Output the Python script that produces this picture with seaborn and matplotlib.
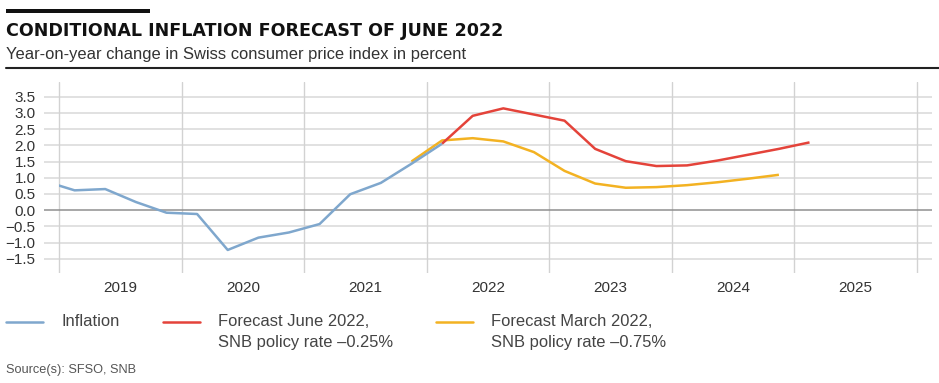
import numpy as np
import pandas as pd
import matplotlib
matplotlib.use("Agg")
import matplotlib.pyplot as plt
import seaborn as sns
from matplotlib.patches import Rectangle
from matplotlib.lines import Line2D
from matplotlib.ticker import FixedLocator, FuncFormatter

# ---------------- data ----------------
inflation_quarters = ["2018Q4", "2019Q1", "2019Q2", "2019Q3", "2019Q4",
                      "2020Q1", "2020Q2", "2020Q3", "2020Q4",
                      "2021Q1", "2021Q2", "2021Q3", "2021Q4", "2022Q1"]
inflation_values = [0.9, 0.61, 0.65, 0.25, -0.08,
                    -0.12, -1.23, -0.85, -0.69,
                    -0.43, 0.49, 0.84, 1.43, 2.05]

june_quarters = ["2022Q1", "2022Q2", "2022Q3", "2022Q4",
                 "2023Q1", "2023Q2", "2023Q3", "2023Q4",
                 "2024Q1", "2024Q2", "2024Q3", "2024Q4", "2025Q1"]
june_values = [2.05, 2.91, 3.14, 2.95,
               2.76, 1.89, 1.51, 1.36,
               1.38, 1.53, 1.71, 1.89, 2.09]

march_quarters = ["2021Q4", "2022Q1", "2022Q2", "2022Q3", "2022Q4",
                  "2023Q1", "2023Q2", "2023Q3", "2023Q4",
                  "2024Q1", "2024Q2", "2024Q3", "2024Q4"]
march_values = [1.5, 2.15, 2.22, 2.12, 1.79,
                1.21, 0.82, 0.69, 0.71,
                0.77, 0.86, 0.97, 1.09]

year_labels = ["2019", "2020", "2021", "2022", "2023", "2024", "2025"]
y_ticks = [-1.5, -1.0, -0.5, 0.0, 0.5, 1.0, 1.5, 2.0, 2.5, 3.0, 3.5]

series_names = ["Inflation", "Forecast June 2022,\nSNB policy rate \u20130.25%",
                "Forecast March 2022,\nSNB policy rate \u20130.75%"]
colors = ["#7fa7cd", "#e4433a", "#f3b222"]


def q_to_x(q):
    year, qq = q.split("Q")
    return int(year) + (int(qq) - 0.5) / 4.0


frames = []
for name, qs, vals in [(series_names[0], inflation_quarters, inflation_values),
                       (series_names[1], june_quarters, june_values),
                       (series_names[2], march_quarters, march_values)]:
    frames.append(pd.DataFrame({"x": [q_to_x(q) for q in qs], "value": vals, "series": name}))
df = pd.concat(frames, ignore_index=True)

# ---------------- style ----------------
sns.set_theme(style="white")
plt.rcParams["font.family"] = ["Liberation Sans", "DejaVu Sans"]
plt.rcParams["axes.unicode_minus"] = True

W, H = 939, 383
fig = plt.figure(figsize=(W / 100, H / 100), dpi=100)


def fx(px):
    return px / W


def fy(py):
    return 1 - py / H


ax = fig.add_axes([fx(44), fy(273), fx(932) - fx(44), fy(82) - fy(273)])

hue_order = [series_names[2], series_names[0], series_names[1]]
palette = {series_names[0]: colors[0], series_names[1]: colors[1], series_names[2]: colors[2]}
sns.lineplot(data=df, x="x", y="value", hue="series", hue_order=hue_order,
             palette=palette, sort=False, estimator=None, linewidth=1.8,
             legend=False, ax=ax)

# clip observed inflation at the start of 2019
clip = Rectangle((2019.0, -10), 20, 20, transform=ax.transData)
for ln in ax.lines:
    if matplotlib.colors.to_hex(ln.get_color()) == colors[0]:
        ln.set_clip_path(clip)
    ln.set_solid_joinstyle("round")
    ln.set_solid_capstyle("butt")

ax.set_xlim(2018.875, 2026.125)
ax.set_ylim(-1.941, 3.954)

for s in ax.spines.values():
    s.set_visible(False)

# grids
for yv in y_ticks:
    if yv == 0:
        ax.axhline(0, color="#8f8f8f", lw=1.1, zorder=1)
    else:
        ax.axhline(yv, color="#dcdcdc", lw=1.2, zorder=0)
for xv in range(2019, 2027):
    ax.axvline(xv, color="#d2d2d2", lw=1.0, zorder=0)

ax.yaxis.set_major_locator(FixedLocator(y_ticks))
ax.yaxis.set_major_formatter(FuncFormatter(lambda v, p: f"{v:.1f}".replace("-", "\u2212")))
ax.tick_params(axis="y", length=0, pad=6, labelsize=11, labelcolor="#333333")

ax.xaxis.set_major_locator(FixedLocator([y + 0.5 for y in range(2019, 2026)]))
ax.xaxis.set_major_formatter(FuncFormatter(lambda v, p: year_labels[int(round(v - 0.5)) - 2019]))
ax.tick_params(axis="x", length=0, pad=6, labelsize=11, labelcolor="#333333")
ax.set_xlabel("")
ax.set_ylabel("")

# ---------------- header ----------------
fig.add_artist(Rectangle((fx(6), fy(12.8)), fx(150) - fx(6), fy(9.2) - fy(12.8),
                         transform=fig.transFigure, color="#111111", lw=0))
fig.text(fx(6), fy(35.7), "CONDITIONAL INFLATION FORECAST OF JUNE 2022",
         family=["DejaVu Sans"], fontweight="bold", fontsize=12.6, color="#111111",
         va="baseline", ha="left")
fig.text(fx(6), fy(59.5), "Year-on-year change in Swiss consumer price index in percent",
         fontsize=11.9, color="#333333", va="baseline", ha="left")
fig.add_artist(Line2D([fx(6), fx(939)], [fy(67.5), fy(67.5)], transform=fig.transFigure,
                      color="#222222", lw=1.5))

# ---------------- legend ----------------
legend_items = [(6, 43, 61, series_names[0], colors[0]),
                (163, 200, 218, series_names[1], colors[1]),
                (436, 473, 491, series_names[2], colors[2])]
for x0, x1, tx, label, c in legend_items:
    fig.add_artist(Line2D([fx(x0), fx(x1)], [fy(322), fy(322)], transform=fig.transFigure,
                          color=c, lw=1.8))
    for i, line in enumerate(label.split("\n")):
        fig.text(fx(tx), fy(322 + 20 * i), line, fontsize=11.9, color="#444444",
                 va="center", ha="left")

fig.text(fx(6), fy(370), "Source(s): SFSO, SNB", fontsize=9.2, color="#555555",
         va="center", ha="left")

fig.savefig("out.png", dpi=100)
